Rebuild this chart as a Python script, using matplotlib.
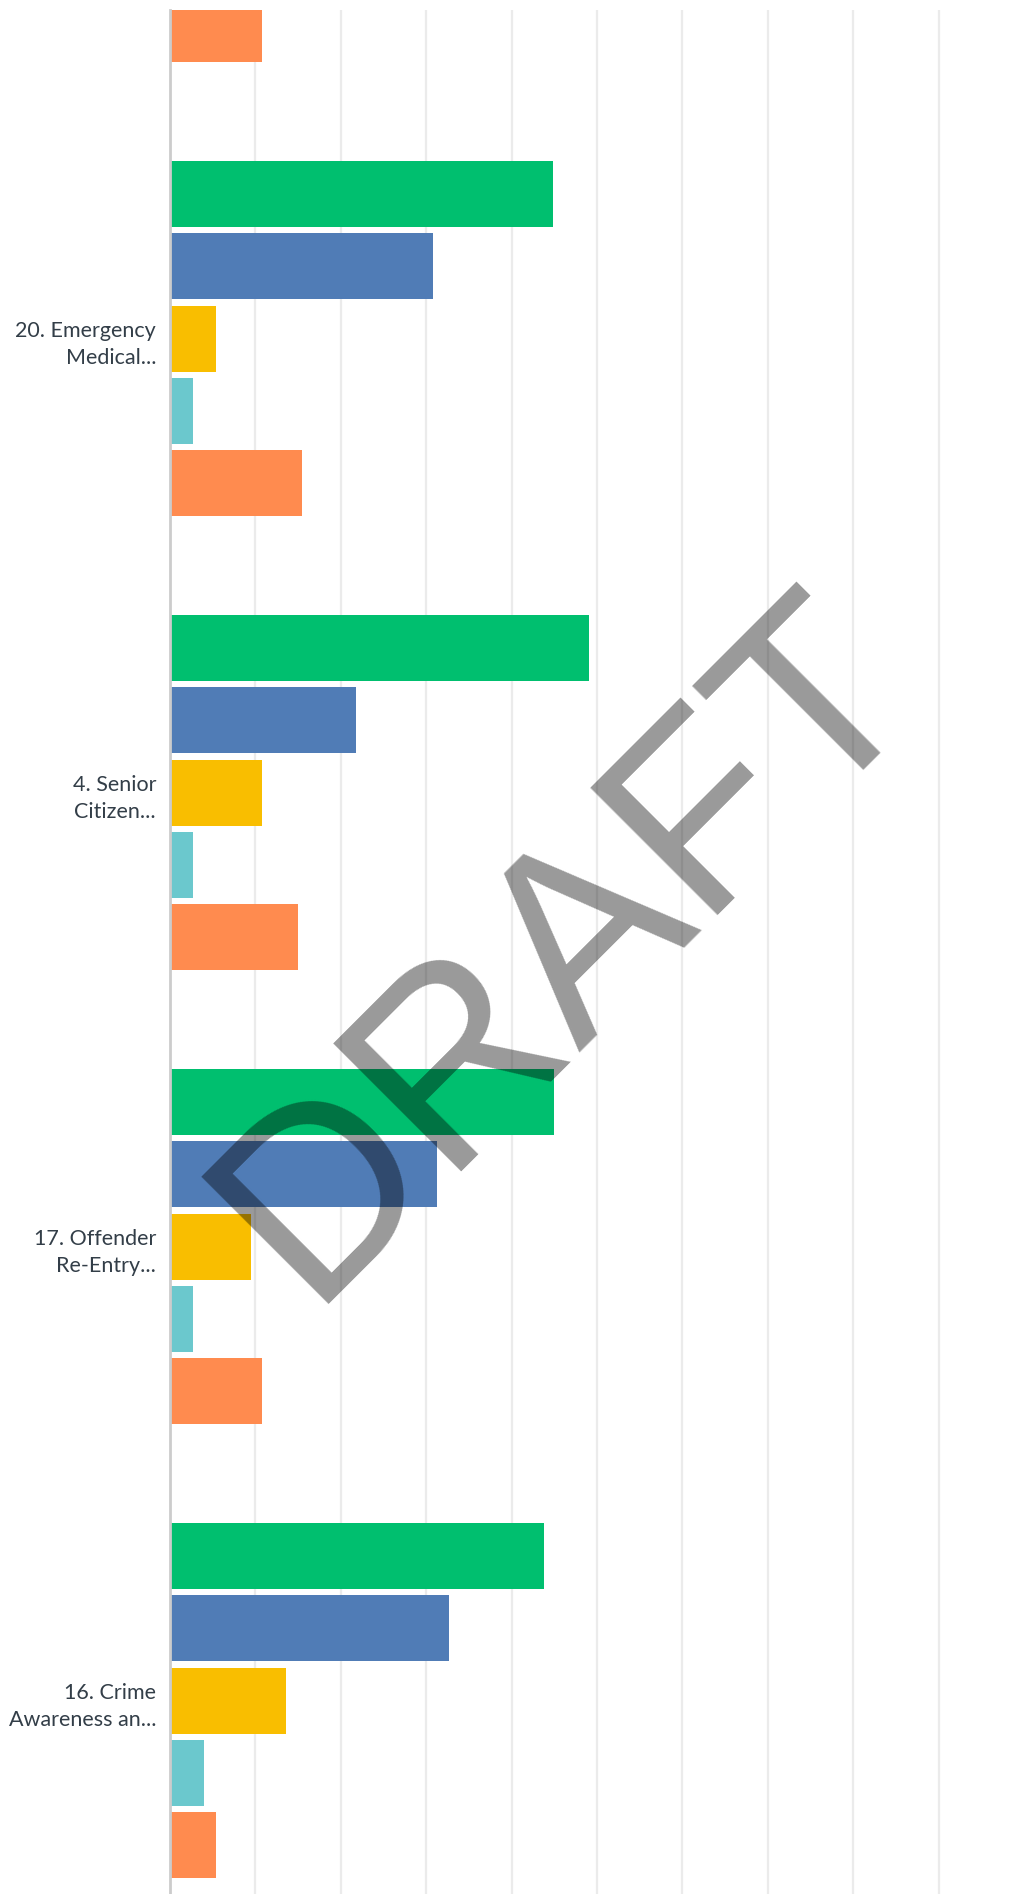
import matplotlib.pyplot as plt
import numpy as np

# Дані (відсотки)
categories = ["", "20. Emergency\nMedical...", "4. Senior\nCitizen...",
              "17. Offender\nRe-Entry...", "16. Crime\nAwareness an..."]
series_names = ["s1", "s2", "s3", "s4", "s5"]
green = [np.nan, 44.9, 49.1, 45.0, 43.8]
blue = [np.nan, 30.8, 21.8, 31.3, 32.7]
yellow = [np.nan, 5.4, 10.8, 9.5, 13.6]
teal = [np.nan, 2.7, 2.7, 2.7, 4.0]
orange = [10.8, 15.5, 15.0, 10.8, 5.4]
colors = ["#00BF6F", "#507CB6", "#F9BE00", "#6BC8CD", "#FF8B4F"]

fig = plt.figure(figsize=(10.16, 18.94), dpi=100)
ax = fig.add_axes([170 / 1016, 0, 1 - 170 / 1016, 1 - 10 / 1894])

pos = np.arange(len(categories)) - 1.0   # перша група частково зрізана
step = 72.3 / 454
height = 66 / 454
for i, (vals, c) in enumerate(zip([green, blue, yellow, teal, orange], colors)):
    ax.barh(pos + (i - 2) * step, vals, height=height, color=c, zorder=2)

ax.set_xlim(0, (1016 - 170) / 8.54)
ax.set_ylim((1894 - 338.6) / 454, (10 - 338.6) / 454)
ax.set_xticks(np.arange(10, 100, 10))
ax.xaxis.grid(True, color="#ebebeb", linewidth=1.6, zorder=0)
ax.tick_params(axis="x", length=0, labelbottom=False)
ax.set_yticks(pos[1:])
ax.set_yticklabels(categories[1:], fontsize=15.5, color="#333E48", family="Lato")
for lbl in ax.get_yticklabels():
    lbl.set_linespacing(1.45)
ax.tick_params(axis="y", length=0, pad=10)
for s in ["top", "right", "bottom"]:
    ax.spines[s].set_visible(False)
ax.spines["left"].set_color("#cccccc")
ax.spines["left"].set_linewidth(2)

# Водяний знак
fig.text(0.558, 0.4995, "DRAFT", fontsize=188, color="black", alpha=0.4,
         rotation=45, ha="center", va="center", rotation_mode="anchor",
         family="Liberation Sans", zorder=10)

plt.savefig("out.png", dpi=100)
